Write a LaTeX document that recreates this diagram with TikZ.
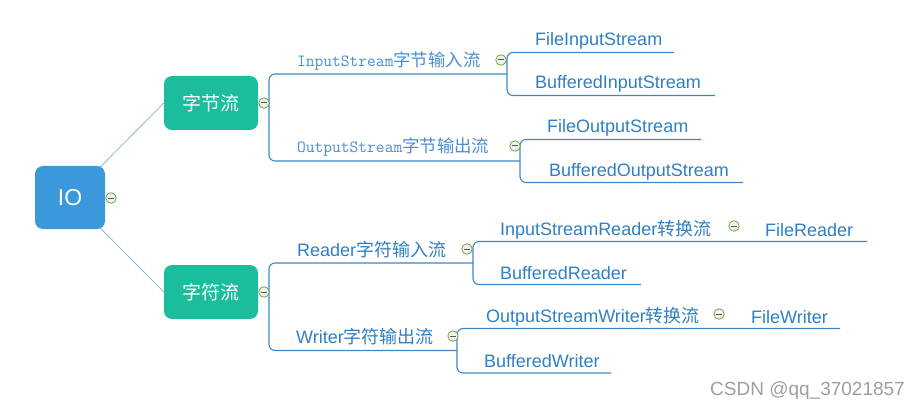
\documentclass[tikz,border=0pt]{standalone}
\usepackage{fontspec}
\setmainfont{Liberation Sans}
\newfontfamily\zhfont{Noto Sans CJK SC}
\newfontfamily\zhlight{Noto Sans CJK SC Light}
\usetikzlibrary{backgrounds}
\definecolor{txtblue}{HTML}{2E7FC4}
\definecolor{monoblue}{HTML}{4A8ECF}
\definecolor{linblue}{HTML}{3D86C6}
\definecolor{linklight}{HTML}{86B6DE}
\definecolor{iobg}{HTML}{3A98DB}
\definecolor{teal}{HTML}{1CBD9D}
\definecolor{okgreen}{HTML}{6AAA3A}
\newcommand\zh[1]{{\zhfont #1}}
\newcommand\mzh[1]{{\zhfont\fontsize{17.4}{18}\selectfont #1}}
\tikzset{
  iobox/.style={fill=iobg, rounded corners=8pt, minimum width=70pt, minimum height=63pt,
    text=white, inner sep=0, font=\fontsize{23}{26}\selectfont},
  catbox/.style={fill=teal, rounded corners=8pt, minimum width=94pt, minimum height=54pt,
    text=white, inner sep=0, font=\zhfont\fontsize{19}{22}\selectfont},
  lbl/.style={anchor=base west, inner sep=0, text=txtblue, font=\fontsize{18}{20}\selectfont},
  mlbl/.style={anchor=base west, inner sep=0, text=monoblue, font=\ttfamily\fontsize{17}{18}\selectfont},
  br/.style={draw=linblue, line width=1.1pt, rounded corners=6pt},
  iolink/.style={draw=linklight, line width=0.8pt},
  collapse/.style={circle, draw=okgreen, fill=gray!12, line width=0.8pt, minimum size=10.5pt, inner sep=0,
    path picture={\draw[black!65, line width=1pt] ([xshift=2.2pt]path picture bounding box.west) -- ([xshift=-2.2pt]path picture bounding box.east);}},
  wm/.style={anchor=base west, inner sep=0, text=black!38, font=\fontsize{19}{21}\selectfont}
}
\begin{document}
\begin{tikzpicture}[x=1pt, y=-1pt]
\useasboundingbox (0,0) rectangle (924,409);
% main nodes
\node[iobox] (io) at (70,197.5) {IO};
\node[catbox] (byte) at (211,103) {字节流};
\node[catbox] (char) at (211,292) {字符流};
\begin{pgfonlayer}{background}
  \draw[iolink] (io.center) -- (byte.west);
  \draw[iolink] (io.center) -- (char.west);
\end{pgfonlayer}
% labels
\node[mlbl] (ins) at (297,66.5) {InputStream\mzh{字节输入流}};
\node[mlbl] (outs) at (297,153) {OutputStream\mzh{字节输出流}};
\node[lbl] (fis) at (535,46) {FileInputStream};
\node[lbl] (bis) at (535,88.5) {BufferedInputStream};
\node[lbl] (fos) at (547,133) {FileOutputStream};
\node[lbl] (bos) at (549,176.5) {BufferedOutputStream};
\node[lbl] (rd) at (297,256) {Reader\zh{字符输入流}};
\node[lbl] (wr) at (296,343) {Writer\zh{字符输出流}};
\node[lbl] (isr) at (500,235) {InputStreamReader\zh{转换流}};
\node[lbl] (brd) at (500,279) {BufferedReader};
\node[lbl] (frd) at (765,236) {FileReader};
\node[lbl] (osw) at (486,322) {OutputStreamWriter\zh{转换流}};
\node[lbl] (bwr) at (484,367) {BufferedWriter};
\node[lbl] (fwr) at (751,323) {FileWriter};
\node[wm] (mark) at (710,395) {CSDN @qq\_37021857};
% spine coordinates
\coordinate (bs) at (269,103);
\coordinate (is) at (507,74);
\coordinate (os) at (520,161);
\coordinate (fisE) at (674,52.5);
\coordinate (bisE) at (715,95.5);
\coordinate (fosE) at (701,139.5);
\coordinate (bosE) at (743,182.5);
\coordinate (cs) at (269,292);
\coordinate (rs) at (473,263);
\coordinate (ws) at (457,350.5);
\coordinate (frE) at (867,241.5);
\coordinate (brE) at (641,284.5);
\coordinate (fwE) at (840,328.5);
\coordinate (bwE) at (611,373);
% brackets
\draw[br] (is) -| (bs) |- (os);
\draw[br] (fisE) -| (is) |- (bisE);
\draw[br] (fosE) -| (os) |- (bosE);
\draw[br] (rs) -| (cs) |- (ws);
\draw[br] (frE) -| (rs) |- (brE);
\draw[br] (fwE) -| (ws) |- (bwE);
% collapse markers
\node[collapse] (c0) at (111,198) {};
\node[collapse] (c1) at (264,103) {};
\node[collapse] (c2) at (264,292) {};
\node[collapse] (c3) at (501,60) {};
\node[collapse] (c4) at (515,146) {};
\node[collapse] (c5) at (467,249) {};
\node[collapse] (c6) at (453,336) {};
\node[collapse] (c7) at (734,226) {};
\node[collapse] (c8) at (719,314) {};
\end{tikzpicture}
\end{document}
